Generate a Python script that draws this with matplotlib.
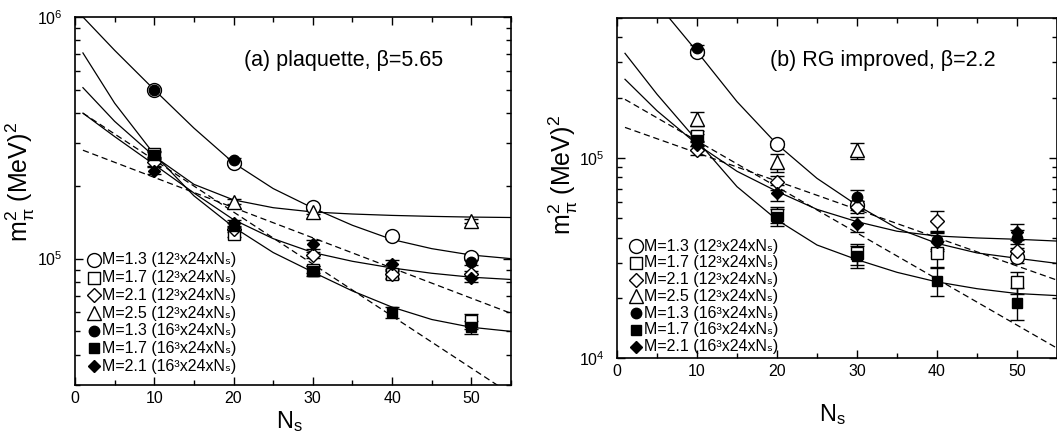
import matplotlib
matplotlib.use("Agg")
import matplotlib.pyplot as plt
from matplotlib.ticker import MultipleLocator, LogLocator, NullFormatter

plt.rcParams['font.family'] = ['Liberation Sans', 'DejaVu Sans']
plt.rcParams['mathtext.fontset'] = 'custom'
plt.rcParams['mathtext.rm'] = 'Liberation Sans'
plt.rcParams['mathtext.it'] = 'Liberation Sans'
plt.rcParams['mathtext.default'] = 'regular'

# ---------------- (a) plaquette, beta=5.65 ----------------
a_N = [10, 20, 30, 40, 50]
a_o13 = [5.0e5, 2.48e5, 1.63e5, 1.24e5, 1.02e5]
a_o13_err = [8e3, 5e3, 3e3, 3e3, 3e3]
a_s17 = [2.72e5, 1.27e5, 0.90e5, 0.86e5, 0.55e5]
a_s17_err = [8e3, 4e3, 3e3, 4e3, 4e3]
a_d21 = [2.50e5, 1.33e5, 1.04e5, 0.86e5, 0.86e5]
a_d21_err = [8e3, 4e3, 3e3, 3e3, 3e3]
a_t25_N = [20, 30, 50]
a_t25 = [1.72e5, 1.56e5, 1.43e5]
a_t25_err = [4e3, 3e3, 3e3]
a_f13_N = [10, 20, 50]
a_f13 = [5.0e5, 2.55e5, 0.97e5]
a_f13_err = [8e3, 5e3, 3e3]
a_f17 = [2.68e5, 1.36e5, 0.89e5, 0.60e5, 0.52e5]
a_f17_err = [8e3, 5e3, 4e3, 3e3, 3e3]
a_fd21 = [2.31e5, 1.40e5, 1.15e5, 0.95e5, 0.83e5]
a_fd21_err = [8e3, 5e3, 5e3, 4e3, 3e3]

# fit curves, every 5 in N_s
a_fit_N = [1, 5, 10, 15, 20, 25, 30, 35, 40, 45, 50, 55]
a_fit13 = [1.0e6, 7.28e5, 5.0e5, 3.47e5, 2.49e5, 1.95e5, 1.62e5, 1.374e5, 1.20e5, 1.10e5, 1.035e5, 1.0e5]
a_fit17 = [7.1e5, 4.4e5, 2.70e5, 1.82e5, 1.35e5, 1.06e5, 0.88e5, 0.735e5, 0.63e5, 0.56e5, 0.52e5, 0.50e5]
a_fit21 = [4.0e5, 3.2e5, 2.45e5, 1.87e5, 1.45e5, 1.21e5, 1.06e5, 0.975e5, 0.915e5, 0.87e5, 0.838e5, 0.82e5]
a_fit25 = [5.1e5, 3.7e5, 2.65e5, 2.03e5, 1.75e5, 1.625e5, 1.56e5, 1.53e5, 1.51e5, 1.496e5, 1.486e5, 1.48e5]
a_dash1_N = [1, 55]
a_dash1 = [4.0e5, 2.75e4]
a_dash2_N = [1, 55]
a_dash2 = [2.81e5, 0.594e5]

# ---------------- (b) RG improved, beta=2.2 ----------------
b_N = [10, 20, 30, 40, 50]
b_o13_N = [10, 20, 30, 50]
b_o13 = [3.4e5, 1.17e5, 5.8e4, 3.2e4]
b_o13_err = [1.2e4, 4e3, 3e3, 2e3]
b_s17 = [1.28e5, 5.2e4, 3.33e4, 3.36e4, 2.39e4]
b_s17_err = [8e3, 5e3, 4e3, 5e3, 3e3]
b_d21 = [1.09e5, 7.55e4, 5.7e4, 4.85e4, 3.43e4]
b_d21_err = [6e3, 6e3, 4e3, 6e3, 3e3]
b_t25_N = [10, 20, 30]
b_t25 = [1.57e5, 9.5e4, 1.09e5]
b_t25_err = [1.2e4, 1e4, 1e4]
b_f13_N = [10, 30, 40, 50]
b_f13 = [3.56e5, 6.4e4, 3.9e4, 3.96e4]
b_f13_err = [1e4, 5e3, 4e3, 4e3]
b_f17 = [1.23e5, 5.05e4, 3.23e4, 2.43e4, 1.89e4]
b_f17_err = [8e3, 5e3, 4e3, 4e3, 3.5e3]
b_fd21 = [1.16e5, 6.7e4, 4.65e4, 3.81e4, 4.28e4]
b_fd21_err = [6e3, 6e3, 4e3, 4e3, 4e3]

b_fit_N = [1, 5, 10, 15, 20, 25, 30, 35, 40, 45, 50, 55]
b_fit13_N = [6, 10, 15, 20, 25, 30, 35, 40, 45, 50, 55]
b_fit13 = [5.3e5, 3.4e5, 1.91e5, 1.17e5, 7.9e4, 5.8e4, 4.45e4, 3.74e4, 3.35e4, 3.15e4, 2.97e4]
b_fit17 = [3.33e5, 2.08e5, 1.22e5, 7.18e4, 4.9e4, 3.67e4, 3.1e4, 2.68e4, 2.4e4, 2.22e4, 2.1e4, 2.05e4]
b_fit21 = [2.47e5, 1.72e5, 1.17e5, 8.57e4, 6.8e4, 5.53e4, 4.8e4, 4.3e4, 4.07e4, 3.98e4, 3.92e4, 3.84e4]
b_dash1_N = [1, 55]
b_dash1 = [1.96e5, 1.12e4]
b_dash2_N = [1, 55]
b_dash2 = [1.42e5, 2.45e4]

labels = ['M=1.3 (12³x24xNₛ)', 'M=1.7 (12³x24xNₛ)', 'M=2.1 (12³x24xNₛ)',
          'M=2.5 (12³x24xNₛ)', 'M=1.3 (16³x24xNₛ)', 'M=1.7 (16³x24xNₛ)',
          'M=2.1 (16³x24xNₛ)']
styles = [('o', False, 10), ('s', False, 9), ('D', False, 7.5), ('^', False, 10),
          ('o', True, 7.5), ('s', True, 6.5), ('D', True, 6)]

fig = plt.figure(figsize=(10.57, 4.36), dpi=100)
ax1 = fig.add_axes([75 / 1057, 1 - 385 / 436, 436 / 1057, 368 / 436])
ax2 = fig.add_axes([617 / 1057, 1 - 358 / 436, 440 / 1057, 340 / 436])


def draw(ax, sets, fits, dashes):
    for x, y in fits:
        ax.plot(x, y, color='black', lw=0.9)
    for x, y in dashes:
        ax.plot(x, y, color='black', lw=0.9, ls=(0, (5, 3)))
    for (x, y, e), (mk, fill, ms) in zip(sets, styles):
        ax.errorbar(x, y, yerr=e, fmt=mk, ms=ms, mfc='black' if fill else 'white',
                    mec='black', mew=1.0, ecolor='black', elinewidth=1.0,
                    capsize=5, capthick=1.0)


def legend(ax, mx, tx, y0, dy):
    for i, ((mk, fill, ms), lab) in enumerate(zip(styles, labels)):
        y = y0 - i * dy
        ax.plot([mx], [y], marker=mk, ms=ms, ls='none', mec='black', mew=1.0,
                mfc='black' if fill else 'white', transform=ax.transAxes, clip_on=False)
        ax.text(tx, y, lab, transform=ax.transAxes, va='center', ha='left', fontsize=11.5)


draw(ax1,
     [(a_N, a_o13, a_o13_err), (a_N, a_s17, a_s17_err), (a_N, a_d21, a_d21_err),
      (a_t25_N, a_t25, a_t25_err), (a_f13_N, a_f13, a_f13_err),
      (a_N, a_f17, a_f17_err), (a_N, a_fd21, a_fd21_err)],
     [(a_fit_N, a_fit13), (a_fit_N, a_fit17), (a_fit_N, a_fit21), (a_fit_N, a_fit25)],
     [(a_dash1_N, a_dash1), (a_dash2_N, a_dash2)])
draw(ax2,
     [(b_o13_N, b_o13, b_o13_err), (b_N, b_s17, b_s17_err), (b_N, b_d21, b_d21_err),
      (b_t25_N, b_t25, b_t25_err), (b_f13_N, b_f13, b_f13_err),
      (b_N, b_f17, b_f17_err), (b_N, b_fd21, b_fd21_err)],
     [(b_fit13_N, b_fit13), (b_fit_N, b_fit17), (b_fit_N, b_fit21)],
     [(b_dash1_N, b_dash1), (b_dash2_N, b_dash2)])

for ax, ylim in [(ax1, (3e4, 1e6)), (ax2, (1e4, 5e5))]:
    ax.set_yscale('log')
    ax.set_xlim(0, 55)
    ax.set_ylim(*ylim)
    ax.xaxis.set_major_locator(MultipleLocator(10))
    ax.xaxis.set_minor_locator(MultipleLocator(5))
    ax.yaxis.set_minor_locator(LogLocator(base=10, subs=range(2, 10)))
    ax.yaxis.set_minor_formatter(NullFormatter())
    ax.tick_params(which='both', direction='in', top=True, right=True, width=1.0)
    ax.tick_params(which='major', length=6, labelsize=11.5)
    ax.tick_params(which='minor', length=3.5)
    ax.tick_params(axis='y', which='major', pad=9)
    ax.tick_params(axis='x', which='major', pad=4.5)
    for sp in ax.spines.values():
        sp.set_linewidth(1.2)
    ax.set_xlabel('N$_s$', fontsize=17)
    ax.set_ylabel(r'$m_{\pi}^{2}$ (MeV)$^{2}$', fontsize=18)

ax1.xaxis.set_label_coords(0.493, -0.066)
ax1.yaxis.set_label_coords(-0.087, 0.552)
ax2.xaxis.set_label_coords(0.489, -0.129)
ax2.yaxis.set_label_coords(-0.084, 0.538)

ax1.text(0.615, 0.883, '(a) plaquette, β=5.65', transform=ax1.transAxes,
         ha='center', va='center', fontsize=15.5)
ax2.text(0.605, 0.876, '(b) RG improved, β=2.2', transform=ax2.transAxes,
         ha='center', va='center', fontsize=15.5)

legend(ax1, 0.0436, 0.0619, 0.3397, 0.0481)
legend(ax2, 0.0432, 0.0614, 0.3294, 0.0494)

fig.savefig('out.png', dpi=100)
